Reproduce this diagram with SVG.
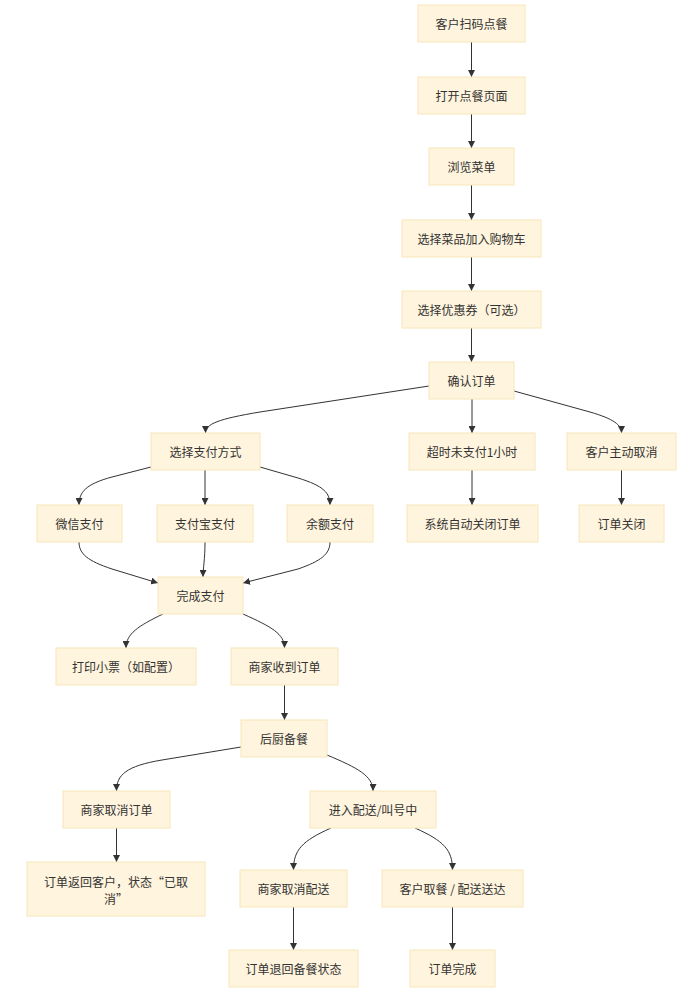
<svg xmlns="http://www.w3.org/2000/svg" width="700" height="993" viewBox="0 0 700 993">
<style>
.n rect{fill:#fff4dd;stroke:#f8e6b8;stroke-width:1}
.n text{font-family:"Noto Sans CJK SC","Noto Sans",sans-serif;font-size:12px;fill:#333;text-anchor:middle;dominant-baseline:central}
.e path{fill:none;stroke:#333;stroke-width:1}
</style>
<defs>
<marker id="ah" viewBox="0 0 10 10" refX="10" refY="5" markerWidth="7" markerHeight="7" markerUnits="userSpaceOnUse" orient="auto">
<path d="M0,0 L10,5 L0,10 z" fill="#333"/>
</marker>
</defs>
<rect width="700" height="993" fill="#fff"/>
<g class="e">
<path marker-end="url(#ah)" d="M471.5,42 L471.5,77"/>
<path marker-end="url(#ah)" d="M471.5,114 L471.5,148"/>
<path marker-end="url(#ah)" d="M471.5,185 L471.5,220"/>
<path marker-end="url(#ah)" d="M471.5,257 L471.5,291"/>
<path marker-end="url(#ah)" d="M471.5,328 L471.5,362"/>
<path marker-end="url(#ah)" d="M429,386 L260,412 C218,419 205.5,424 205.5,433"/>
<path marker-end="url(#ah)" d="M472,399 L472,433"/>
<path marker-end="url(#ah)" d="M514,391 L590,412 C614,419 621.5,425 621.5,433"/>
<path marker-end="url(#ah)" d="M151,467 L112,477 C86,484 79,492 79,505"/>
<path marker-end="url(#ah)" d="M205,470 L205,505"/>
<path marker-end="url(#ah)" d="M260,467 L298,478 C324,486 330,493 330,505"/>
<path marker-end="url(#ah)" d="M472,470 L472,505"/>
<path marker-end="url(#ah)" d="M621.5,470 L621.5,505"/>
<path marker-end="url(#ah)" d="M79,542 C79,554 88,561 112,569 L158,583"/>
<path marker-end="url(#ah)" d="M205,542 C205,560 203,568 203,577"/>
<path marker-end="url(#ah)" d="M330,542 C330,554 321,561 298,569 L243,583"/>
<path marker-end="url(#ah)" d="M163,614 C138,626 126,634 126,648"/>
<path marker-end="url(#ah)" d="M243,614 C272,627 284.5,634 284.5,648"/>
<path marker-end="url(#ah)" d="M284.5,685 L284.5,720"/>
<path marker-end="url(#ah)" d="M241,747 L162,760 C126,766 116.5,775 116.5,791"/>
<path marker-end="url(#ah)" d="M327,755 C358,768 373,776 373,791"/>
<path marker-end="url(#ah)" d="M116.5,828 L116.5,862"/>
<path marker-end="url(#ah)" d="M331,828 C302,841 293.5,850 293.5,870"/>
<path marker-end="url(#ah)" d="M415,828 C444,841 452.5,850 452.5,870"/>
<path marker-end="url(#ah)" d="M293.5,907 L293.5,950"/>
<path marker-end="url(#ah)" d="M452.5,907 L452.5,950"/>
</g>
<g id="n1" class="n"><rect x="418" y="5" width="107" height="37"/><text x="471.5" y="23.5">客户扫码点餐</text></g>
<g id="n2" class="n"><rect x="418" y="77" width="107" height="37"/><text x="471.5" y="95.5">打开点餐页面</text></g>
<g id="n3" class="n"><rect x="429" y="148" width="85" height="37"/><text x="471.5" y="166.5">浏览菜单</text></g>
<g id="n4" class="n"><rect x="402" y="220" width="139" height="37"/><text x="471.5" y="238.5">选择菜品加入购物车</text></g>
<g id="n5" class="n"><rect x="402" y="291" width="139" height="37"/><text x="471.5" y="309.5">选择优惠券（可选）</text></g>
<g id="n6" class="n"><rect x="429" y="362" width="85" height="37"/><text x="471.5" y="380.5">确认订单</text></g>
<g id="n7" class="n"><rect x="151" y="433" width="109" height="37"/><text x="205.5" y="451.5">选择支付方式</text></g>
<g id="n8" class="n"><rect x="409" y="433" width="126" height="37"/><text x="472" y="451.5">超时未支付1小时</text></g>
<g id="n9" class="n"><rect x="567" y="433" width="109" height="37"/><text x="621.5" y="451.5">客户主动取消</text></g>
<g id="n10" class="n"><rect x="37" y="505" width="85" height="37"/><text x="79.5" y="523.5">微信支付</text></g>
<g id="n11" class="n"><rect x="157" y="505" width="96" height="37"/><text x="205" y="523.5">支付宝支付</text></g>
<g id="n12" class="n"><rect x="287" y="505" width="86" height="37"/><text x="330" y="523.5">余额支付</text></g>
<g id="n13" class="n"><rect x="407" y="505" width="131" height="37"/><text x="472.5" y="523.5">系统自动关闭订单</text></g>
<g id="n14" class="n"><rect x="579" y="505" width="85" height="37"/><text x="621.5" y="523.5">订单关闭</text></g>
<g id="n15" class="n"><rect x="158" y="577" width="85" height="37"/><text x="200.5" y="595.5">完成支付</text></g>
<g id="n16" class="n"><rect x="56" y="648" width="140" height="37"/><text x="126" y="666.5">打印小票（如配置）</text></g>
<g id="n17" class="n"><rect x="231" y="648" width="107" height="37"/><text x="284.5" y="666.5">商家收到订单</text></g>
<g id="n18" class="n"><rect x="241" y="720" width="86" height="37"/><text x="284" y="738.5">后厨备餐</text></g>
<g id="n19" class="n"><rect x="63" y="791" width="107" height="37"/><text x="116.5" y="809.5">商家取消订单</text></g>
<g id="n20" class="n"><rect x="310" y="791" width="126" height="37"/><text x="373" y="809.5">进入配送/叫号中</text></g>
<g id="n21" class="n"><rect x="27" y="862" width="178" height="54"/><text x="116" y="881">订单返回客户，状态“已取</text><text x="116" y="898">消”</text></g>
<g id="n22" class="n"><rect x="240" y="870" width="107" height="37"/><text x="293.5" y="888.5">商家取消配送</text></g>
<g id="n23" class="n"><rect x="382" y="870" width="141" height="37"/><text x="452.5" y="888.5">客户取餐 / 配送送达</text></g>
<g id="n24" class="n"><rect x="229" y="950" width="129" height="37"/><text x="293.5" y="968.5">订单退回备餐状态</text></g>
<g id="n25" class="n"><rect x="410" y="950" width="85" height="37"/><text x="452.5" y="968.5">订单完成</text></g>
</svg>
